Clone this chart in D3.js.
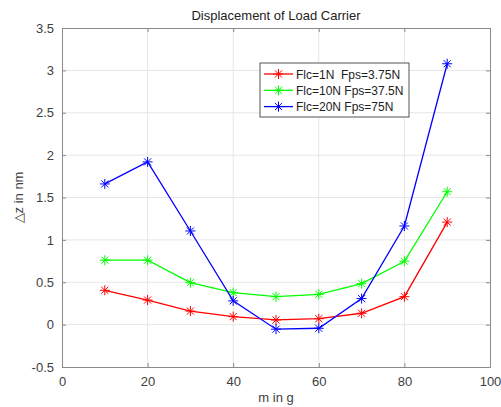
<!DOCTYPE html>
<html>
<head>
<meta charset="utf-8">
<script src="https://cdn.jsdelivr.net/npm/d3@7"></script>
<style>
  body { margin: 0; background: #fff; }
  svg { font-family: "Liberation Sans", Arial, sans-serif; }
</style>
</head>
<body>
<div id="chart"></div>
<script>
// Data
const masses = [10, 20, 30, 40, 50, 60, 70, 80, 90];
const flc1 = [0.405, 0.29, 0.16, 0.094, 0.055, 0.07, 0.134, 0.33, 1.21];
const flc10 = [0.76, 0.76, 0.495, 0.377, 0.33, 0.358, 0.483, 0.748, 1.568];
const flc20 = [1.66, 1.92, 1.105, 0.28, -0.054, -0.043, 0.307, 1.164, 3.078];
const seriesNames = ['Flc=1N  Fps=3.75N', 'Flc=10N Fps=37.5N', 'Flc=20N Fps=75N'];
const seriesColors = ['#ff0000', '#00ff00', '#0000ff'];
const xTicks = [0, 20, 40, 60, 80, 100];
const yTicks = [-0.5, 0, 0.5, 1, 1.5, 2, 2.5, 3, 3.5];

const width = 501, height = 407;
const margin = {top: 28, right: 11, bottom: 40, left: 62};
const innerWidth = width - margin.left - margin.right;
const innerHeight = height - margin.top - margin.bottom;

const svg = d3.select('#chart').append('svg')
    .attr('width', width)
    .attr('height', height);

const g = svg.append('g')
    .attr('transform', `translate(${margin.left},${margin.top})`);

const x = d3.scaleLinear().domain([0, 100]).range([0, innerWidth]);
const y = d3.scaleLinear().domain([-0.5, 3.5]).range([innerHeight, 0]);

// Grid
g.append('g').selectAll('line.vg')
    .data(xTicks.slice(1, -1))
    .join('line')
    .attr('x1', d => x(d)).attr('x2', d => x(d))
    .attr('y1', 0).attr('y2', innerHeight)
    .attr('stroke', '#e6e6e6').attr('stroke-width', 1);
g.append('g').selectAll('line.hg')
    .data(yTicks.slice(1, -1))
    .join('line')
    .attr('y1', d => y(d)).attr('y2', d => y(d))
    .attr('x1', 0).attr('x2', innerWidth)
    .attr('stroke', '#e6e6e6').attr('stroke-width', 1);

// Axes (inward ticks like MATLAB)
const axisColor = '#8a8a8a';
g.append('g')
    .attr('transform', `translate(0,${innerHeight})`)
    .call(d3.axisBottom(x).tickValues(xTicks).tickSize(-4).tickPadding(10).tickFormat(d3.format('d')));
g.append('g')
    .call(d3.axisLeft(y).tickValues(yTicks).tickSize(-4).tickPadding(8).tickFormat(d => d));
const topAxis = g.append('g')
    .call(d3.axisTop(x).tickValues(xTicks).tickSize(-4));
const rightAxis = g.append('g')
    .attr('transform', `translate(${innerWidth},0)`)
    .call(d3.axisRight(y).tickValues(yTicks).tickSize(-4));
// mirror axes carry ticks only
topAxis.selectAll('text').remove();
rightAxis.selectAll('text').remove();

g.selectAll('.domain, .tick line').attr('stroke', axisColor);
g.selectAll('.tick text')
    .attr('fill', '#404040')
    .style('font-size', '13px')
    .style('font-family', '"Liberation Sans", Arial, sans-serif');

// Lines and star markers
const allSeries = [flc1, flc10, flc20];
const line = d3.line()
    .x((d, i) => x(masses[i]))
    .y(d => y(d));

function star(sel, color, r) {
    [0, 45, 90, 135].forEach(a => {
        const rad = a * Math.PI / 180;
        sel.append('line')
            .attr('x1', -r * Math.cos(rad)).attr('y1', -r * Math.sin(rad))
            .attr('x2', r * Math.cos(rad)).attr('y2', r * Math.sin(rad))
            .attr('stroke', color).attr('stroke-width', 1);
    });
}

allSeries.forEach((vals, si) => {
    g.append('path')
        .datum(vals)
        .attr('fill', 'none')
        .attr('stroke', seriesColors[si])
        .attr('stroke-width', 1.3)
        .attr('d', line);
    vals.forEach((v, i) => {
        const m = g.append('g').attr('transform', `translate(${x(masses[i])},${y(v)})`);
        star(m, seriesColors[si], 5);
    });
});

// Title
svg.append('text')
    .attr('x', margin.left + innerWidth / 2)
    .attr('y', 20)
    .attr('text-anchor', 'middle')
    .style('font-size', '13px')
    .attr('fill', '#222')
    .text('Displacement of Load Carrier');

// Axis labels
svg.append('text')
    .attr('x', margin.left + innerWidth / 2)
    .attr('y', 402)
    .attr('text-anchor', 'middle')
    .style('font-size', '13px')
    .attr('fill', '#404040')
    .text('m in g');

svg.append('text')
    .attr('transform', `translate(23,${margin.top + innerHeight / 2}) rotate(-90)`)
    .attr('text-anchor', 'middle')
    .style('font-size', '13px')
    .attr('fill', '#404040')
    .text('△z in nm');

// Legend
const legend = svg.append('g').attr('transform', 'translate(260,63)');
legend.append('rect')
    .attr('width', 149).attr('height', 54)
    .attr('fill', '#fff')
    .attr('stroke', '#555').attr('stroke-width', 1);
seriesNames.forEach((name, i) => {
    const row = legend.append('g').attr('transform', `translate(0,${11 + i * 16.3})`);
    row.append('line')
        .attr('x1', 4).attr('x2', 33)
        .attr('stroke', seriesColors[i]).attr('stroke-width', 1.3);
    star(row.append('g').attr('transform', 'translate(18.5,0)'), seriesColors[i], 5);
    row.append('text')
        .attr('x', 36).attr('y', 4.5)
        .style('font-size', '12px')
        .style('white-space', 'pre')
        .attr('fill', '#222')
        .text(name);
});
</script>
</body>
</html>
